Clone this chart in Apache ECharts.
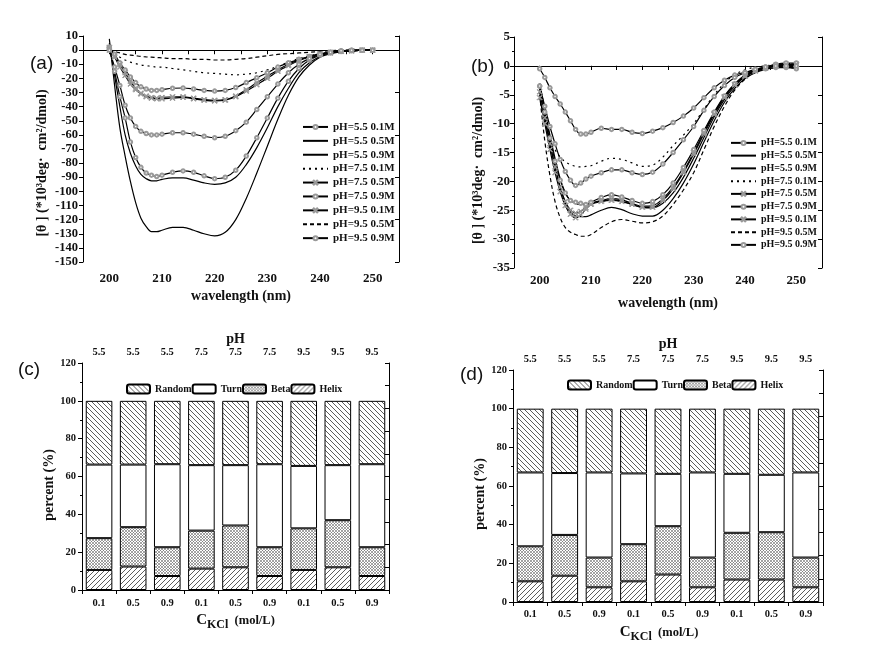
<!DOCTYPE html>
<html><head><meta charset="utf-8">
<script src="https://cdn.jsdelivr.net/npm/echarts@6/dist/echarts.min.js"></script>
<style>html,body{margin:0;padding:0;background:#fff}#c{width:886px;height:652px}</style>
</head><body><div id="c"></div>
<script>
// ---------- DATA ----------
const wavelength = [200,201,202,203,204,205,206,207,208,209,210,212,214,216,218,220,222,224,226,228,230,232,234,236,238,240,242,244,246,248,250];
const seriesNames = ['pH=5.5 0.1M','pH=5.5 0.5M','pH=5.5 0.9M','pH=7.5 0.1M','pH=7.5 0.5M','pH=7.5 0.9M','pH=9.5 0.1M','pH=9.5 0.5M','pH=9.5 0.9M'];
// panel (a)
const a_pH55_01 = [2,-3,-9,-14,-19,-23,-26,-27.5,-28.5,-28.5,-28,-27,-26.8,-27.5,-28.5,-29,-28.5,-26.5,-23,-19.5,-16,-12,-9,-6.5,-4.5,-3,-2,-1,-0.5,0,0];
const a_pH55_05 = [5,-18,-40,-60,-73,-82,-88,-91,-92.5,-92.5,-91.5,-90.5,-90.5,-92,-94,-95,-94,-90,-81,-69,-55,-40,-27,-16,-9,-4.5,-2,-1,-0.5,0,0];
const a_pH55_09 = [8,-25,-55,-75,-93,-108,-119,-125,-128.5,-128.5,-127.5,-125.5,-125.5,-127.5,-130,-131.5,-129,-120,-105,-87,-68,-49,-32,-19,-10.5,-5,-2.5,-1,-0.5,0,0];
const a_pH75_01 = [0,-3,-5,-7,-8.5,-9.5,-10.5,-11,-11.5,-12,-12,-13,-14,-15,-16,-16.5,-17,-17.5,-17,-16,-14,-11.5,-8.5,-6,-4,-2.5,-1.5,-1,-0.5,0,0];
const a_pH75_05 = [0,-5,-12,-18,-24,-28,-31,-33,-34,-34.5,-34.5,-34,-33.5,-34.5,-35.5,-36,-35.5,-33,-29,-24.5,-20,-15,-11,-7.5,-5,-3,-2,-1,-0.5,0,0];
const a_pH75_09 = [2,-15,-33,-48,-65,-76,-83,-87,-88.5,-89.5,-88.5,-86.5,-85.5,-86.5,-89,-91,-90,-85,-75,-62,-48,-34,-22,-13,-7,-3.5,-1.5,-0.5,0,0,0];
const a_pH95_01 = [2,-4,-10,-16,-22,-27,-30.5,-32.5,-33.5,-34,-33.5,-33,-33,-34,-35,-35.5,-35,-32.5,-28,-23,-18.5,-14,-10,-7,-4.5,-2.5,-1.5,-1,-0.5,0,0];
const a_pH95_05 = [0,-1,-2,-3,-3.5,-4,-4.5,-4.8,-5,-5.2,-5.5,-6,-6,-6.5,-6.5,-7,-7,-6.5,-6,-5,-4,-3,-2.5,-2,-1.5,-1,-0.5,0,0,0,0];
const a_pH95_09 = [0,-12,-25,-39,-48,-54,-57.5,-59,-60,-60,-59.5,-58.5,-58.5,-59.5,-61,-62,-61,-57,-51,-42,-33,-24,-16,-10,-6,-3,-1.5,-0.5,0,0,0];
// panel (b)
const b_pH55_01 = [-0.5,-2,-3.8,-5.3,-6.6,-8,-9.5,-11,-11.8,-11.8,-11.5,-10.8,-11,-11,-11.5,-11.7,-11.3,-10.7,-9.8,-8.7,-7.3,-5.5,-3.8,-2.5,-1.6,-1.1,-0.8,-0.5,-0.3,-0.3,-0.5];
const b_pH55_05 = [-4,-9,-13.5,-17.5,-21,-23.8,-25.3,-26,-26.1,-26.1,-25.8,-25,-24.5,-24.9,-25.6,-26,-26,-25,-23,-20.3,-17,-13.2,-9.5,-6.3,-3.9,-2.2,-1.2,-0.6,-0.3,-0.2,-0.4];
const b_pH55_09 = [-3,-7.5,-12,-16,-19.5,-22,-23.3,-23.8,-24,-24,-23.8,-23.4,-23.2,-23.4,-24,-24.5,-24.6,-23.8,-22,-19.3,-16,-12.4,-8.8,-5.8,-3.5,-1.9,-1,-0.4,0,0.1,0.1];
const b_pH75_01 = [-3.5,-9.5,-12.5,-14.5,-15.8,-16.6,-17.1,-17.4,-17.5,-17.4,-17.3,-16.5,-16,-16.2,-16.8,-17.4,-17.2,-15.8,-13.8,-12,-10,-7.5,-5,-3,-1.5,-0.7,-0.2,0,0.2,0.3,0.3];
const b_pH75_05 = [-4.5,-9,-13.5,-17.5,-21,-23.5,-25,-25.5,-25.2,-24.5,-23.8,-23.3,-23,-23.2,-23.8,-24.3,-24.2,-23,-21,-18.3,-15,-11.5,-8.2,-5.3,-3.2,-1.7,-0.8,-0.3,0.1,0.3,0.3];
const b_pH75_09 = [-3.5,-8,-12.5,-16.5,-19.8,-22,-23.3,-23.6,-23.8,-24,-23.6,-22.8,-22.3,-22.7,-23.3,-23.8,-23.5,-22.3,-20.3,-17.6,-14.5,-11.2,-8,-5.2,-3.1,-1.6,-0.7,-0.2,0.3,0.5,0.5];
const b_pH95_01 = [-5.5,-10,-14.5,-18.5,-21.8,-24.2,-25.7,-26.3,-25.8,-24.8,-24,-23.5,-23.3,-23.5,-24,-24.5,-24.5,-23.3,-21.3,-18.5,-15.3,-11.8,-8.4,-5.5,-3.3,-1.8,-0.9,-0.4,0,0.2,0.2];
const b_pH95_05 = [-5,-13,-19,-23.5,-26.3,-28,-28.8,-29.2,-29.5,-29.5,-29.2,-28,-27,-26.6,-26.9,-27.2,-27,-26,-24,-21.5,-18.5,-14.5,-10.5,-7,-4.2,-2.3,-1,-0.3,0.2,0.4,0.4];
const b_pH95_09 = [-3.5,-7,-10.5,-13.5,-16.2,-18.3,-19.8,-20.7,-20.3,-19.6,-19.1,-18.5,-18,-18,-18.5,-18.8,-18.4,-17,-15,-12.8,-10.5,-7.7,-5.3,-3.4,-2,-1.2,-0.6,-0.2,0,0,0];
// panels (c) and (d)
const kclLabels = ['0.1','0.5','0.9','0.1','0.5','0.9','0.1','0.5','0.9'];
const phLabels  = ['5.5','5.5','5.5','7.5','7.5','7.5','9.5','9.5','9.5'];
const c_helix  = [10.6,12.4,7.4,11.3,12,7.4,10.6,12,7.4];
const c_beta   = [16.8,20.8,15.2,20.1,22.1,15.2,22,24.9,15.2];
const c_turn   = [38.9,33.1,43.9,34.6,31.9,43.9,33,29.1,43.9];
const c_random = [33.7,33.7,33.5,34,34,33.5,34.4,34,33.5];
const d_helix  = [10.7,13.6,7.6,10.7,14.2,7.6,11.6,11.6,7.6];
const d_beta   = [18.1,21.1,15.4,19.2,25,15.4,24.2,24.5,15.4];
const d_turn   = [38.2,32,44,36.6,27.1,44,30.5,29.7,44];
const d_random = [33,33.3,33,33.5,33.7,33,33.7,34.2,33];

// ---------- STYLES ----------
const FONT = 'Liberation Serif';
const XSYM = 'path://M0,1L1,0L5,4L9,0L10,1L6,5L10,9L9,10L5,6L1,10L0,9L4,5Z';
const lineStyles = [
  {type:'solid', sym:'emptyCircle'},
  {type:'solid', sym:'none'},
  {type:'solid', sym:'none'},
  {type:[2,4], sym:'none'},
  {type:'solid', sym:XSYM},
  {type:'solid', sym:'emptyCircle'},
  {type:'solid', sym:XSYM},
  {type:[4,3], sym:'none'},
  {type:'solid', sym:'emptyCircle'}
];
const aData = [a_pH55_01,a_pH55_05,a_pH55_09,a_pH75_01,a_pH75_05,a_pH75_09,a_pH95_01,a_pH95_05,a_pH95_09];
const bData = [b_pH55_01,b_pH55_05,b_pH55_09,b_pH75_01,b_pH75_05,b_pH75_09,b_pH95_01,b_pH95_05,b_pH95_09];
const ZW = '\u200b';

function pattern(kind){
  const s = kind==='beta'?3:5;
  const c = document.createElement('canvas'); c.width=c.height=s;
  const g = c.getContext('2d');
  g.fillStyle='#fff'; g.fillRect(0,0,s,s);
  g.strokeStyle= kind==='beta'?'#666':'#333'; g.lineWidth= kind==='beta'?0.6:0.8; g.beginPath();
  if(kind==='fwd'||kind==='beta'){ g.moveTo(-1,s+1); g.lineTo(s+1,-1); g.moveTo(-1,1); g.lineTo(1,-1); g.moveTo(s-1,s+1); g.lineTo(s+1,s-1); }
  if(kind==='back'||kind==='beta'){ g.moveTo(-1,-1); g.lineTo(s+1,s+1); g.moveTo(-1,s-1); g.lineTo(1,s+1); g.moveTo(s-1,-1); g.lineTo(s+1,1); }
  g.stroke();
  return {image:c, repeat:'repeat'};
}
const fills = {Random:pattern('back'), Turn:'#fff', Beta:pattern('beta'), Helix:pattern('fwd')};

const grids = [
  {left:83, top:36, width:316, height:226},
  {left:514, top:37, width:308, height:231},
  {left:82, top:363, width:307, height:227},
  {left:513, top:370, width:310, height:232}
];

const axisLine = {show:true, lineStyle:{color:'#000', width:1}};
const lblBase = {color:'#111', fontFamily:FONT, fontWeight:'bold'};

function lineX(gi, top, fs, margin, nameGap, name){
  return {
    type:'value', gridIndex:gi, position: top?'top':'bottom', min:195, max:255, interval:5,
    axisLine, splitLine:{show:false},
    axisTick:{show:true, inside:top, length:4, lineStyle:{color:'#000'}},
    axisLabel: top?{show:false}:Object.assign({fontSize:fs, margin, formatter:v=>(v%10===0?String(v):'')}, lblBase),
    name: top?'':name, nameLocation:'middle', nameGap,
    nameTextStyle:{fontFamily:FONT, fontWeight:'bold', fontSize:14, color:'#111'}
  };
}
function lineY(gi, right, min, max, interval, fs, margin, nameGap, padShift, minor){
  return {
    type:'value', gridIndex:gi, position: right?'right':'left', min, max, interval,
    axisLine, splitLine:{show:false},
    axisTick:{show:true, inside:right, length:4, lineStyle:{color:'#000'}},
    minorTick:{show:!!minor, splitNumber:2, length:2, lineStyle:{color:'#000'}},
    axisLabel: right?{show:false}:Object.assign({fontSize:fs, margin}, lblBase),
    name: right?'':'[θ ] (*10³deg·  cm²/dmol)', nameLocation:'middle', nameGap,
    nameTextStyle:{fontFamily:FONT, fontWeight:'bold', fontSize:14, color:'#111', padding:[0,padShift,0,0]}
  };
}
function barX(gi, top, margin, nameGap, pad){
  const o = {
    type:'category', gridIndex:gi, position: top?'top':'bottom', data: top?phLabels:kclLabels,
    axisLine, splitLine:{show:false},
    axisTick:{show:true, inside:top, length:4, alignWithLabel:false, lineStyle:{color:'#000'}},
    axisLabel:Object.assign({fontSize:10.5, margin, interval:0}, lblBase),
    nameLocation:'middle', nameGap
  };
  if(top){
    o.name='pH'; o.nameTextStyle={fontFamily:FONT, fontWeight:'bold', fontSize:14, color:'#111'};
  } else {
    o.name='{c|C}{s|KCl}{t|  (mol/L)}';
    o.nameTextStyle={fontFamily:FONT, fontWeight:'bold', color:'#111', padding:pad,
      rich:{c:{fontFamily:FONT,fontWeight:'bold',fontSize:15,color:'#111'},
            s:{fontFamily:FONT,fontWeight:'bold',fontSize:12,color:'#111',padding:[9,0,0,0]},
            t:{fontFamily:FONT,fontWeight:'bold',fontSize:12.5,color:'#111'}}};
  }
  return o;
}
function barY(gi, right, nameGap, padShift){
  return {
    type:'value', gridIndex:gi, position: right?'right':'left', min:0, max:120, interval: right?12:20,
    axisLine, splitLine:{show:false},
    axisTick:{show:true, inside:right, length:4, lineStyle:{color:'#000'}},
    minorTick:{show:!right, splitNumber:2, length:2, lineStyle:{color:'#000'}},
    axisLabel: right?{show:false}:Object.assign({fontSize:10.5, margin:6}, lblBase),
    name: right?'':'percent (%)', nameLocation:'middle', nameGap,
    nameTextStyle:{fontFamily:FONT, fontWeight:'bold', fontSize:14, color:'#111', padding:[0,padShift,0,0]}
  };
}

const xAxis = [
  lineX(0,false,13,10,27,'wavelength (nm)'), lineX(0,true),
  lineX(1,false,13,6,28,'wavelength (nm)'), lineX(1,true),
  barX(2,false,8,20,[0,0,0,0]), barX(2,true,5,16),
  barX(3,false,7,20,[0,18,0,0]), barX(3,true,5,19)
];
const yAxis = [
  lineY(0,false,-150,10,10,12.5,5,34,28,false), lineY(0,true,-150,10,30),
  lineY(1,false,-35,5,5,13,4,29,36,true), lineY(1,true,-35,5,5),
  barY(2,false,24,17), barY(2,true),
  barY(3,false,25,16), barY(3,true)
];

const series = [];
function addLines(dataArr, xi, yi, suffix){
  dataArr.forEach((vals, k)=>{
    const st = lineStyles[k];
    series.push({
      type:'line', name: seriesNames[k]+suffix, xAxisIndex:xi, yAxisIndex:yi,
      data: wavelength.map((w,i)=>[w, vals[i]]),
      smooth:0.35, symbol: st.sym==='none'?'circle':st.sym, symbolSize: st.sym===XSYM?5:3.5,
      showSymbol: st.sym!=='none', showAllSymbol:true,
      lineStyle:{color:'#000', width:1.2, type:st.type},
      itemStyle:{color:'#999', borderColor:'#999', borderWidth:1},
      emphasis:{disabled:true}, animation:false, z: 3
    });
  });
}
addLines(aData, 0, 0, '');
addLines(bData, 2, 2, ZW);

function addBars(parts, xi, yi, suffix, stack){
  const order = ['Helix','Beta','Turn','Random'];
  order.forEach(nm=>{
    series.push({
      type:'bar', name: nm+suffix, xAxisIndex:xi, yAxisIndex:yi, stack,
      data: parts[nm], barWidth:'78%',
      itemStyle:{color: fills[nm], borderColor:'#000', borderWidth:1},
      emphasis:{disabled:true}, animation:false
    });
  });
}
addBars({Helix:c_helix, Beta:c_beta, Turn:c_turn, Random:c_random}, 4, 4, '', 'c');
addBars({Helix:d_helix, Beta:d_beta, Turn:d_turn, Random:d_random}, 6, 6, ZW, 'd');

const legText = (fs, lh)=>({fontFamily:FONT, fontWeight:'bold', fontSize:fs, color:'#111', lineHeight:lh});
const legItems = suffix => seriesNames.map((s,k)=>{
  const o = {name: s+suffix};
  if(lineStyles[k].sym==='none') o.itemStyle = {opacity:0};
  return o;
});
const legend = [
  {orient:'vertical', left:297, top:115, itemWidth:25, itemHeight:5, itemGap:0,
   data: legItems(''), textStyle:legText(11,13.9), selectedMode:false},
  {orient:'vertical', left:725, top:131.5, itemWidth:25, itemHeight:5, itemGap:0,
   data: legItems(ZW), textStyle:legText(10,12.75), selectedMode:false},
  {orient:'horizontal', left:121, top:378, itemWidth:23, itemHeight:9, itemGap:0,
   data:['Random','Turn','Beta','Helix'], textStyle:legText(10,12), selectedMode:false},
  {orient:'horizontal', left:562, top:374, itemWidth:23, itemHeight:9, itemGap:0,
   data:['Random','Turn','Beta','Helix'].map(s=>s+ZW), textStyle:legText(10,12), selectedMode:false}
];

const panelLabel = (txt, x, y)=>({type:'text', left:x, top:y,
  style:{text:txt, fontFamily:'Liberation Sans', fontSize:19, fill:'#111'}});

const chart = echarts.init(document.getElementById('c'), null, {renderer:'canvas'});
chart.setOption({
  backgroundColor:'#fff', animation:false,
  textStyle:{fontFamily:FONT},
  grid: grids, xAxis, yAxis, series, legend,
  graphic:[panelLabel('(a)',30,54), panelLabel('(b)',471,57), panelLabel('(c)',18,360), panelLabel('(d)',460,365)]
});
</script></body></html>
